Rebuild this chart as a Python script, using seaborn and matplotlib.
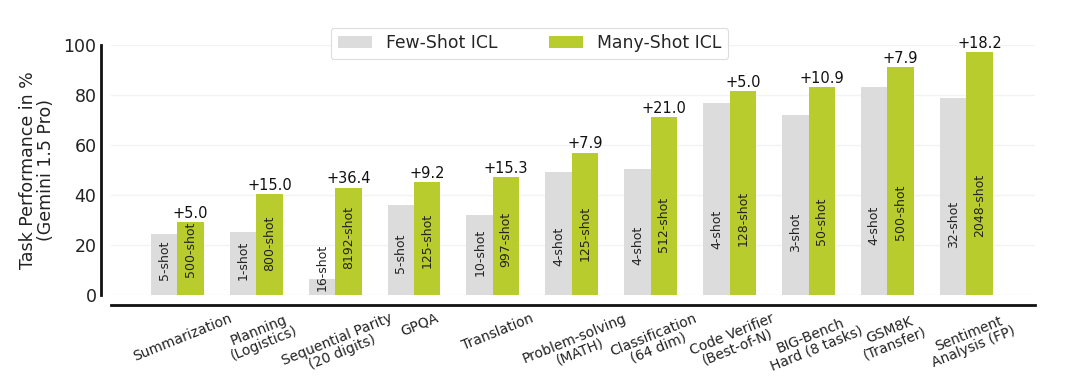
import numpy as np
import pandas as pd
import matplotlib
matplotlib.use("Agg")
import matplotlib.pyplot as plt
import matplotlib.transforms as mtransforms
import seaborn as sns

tasks = ["Summarization", "Planning\n(Logistics)", "Sequential Parity\n(20 digits)", "GPQA",
         "Translation", "Problem-solving\n(MATH)", "Classification\n(64 dim)",
         "Code Verifier\n(Best-of-N)", "BIG-Bench\nHard (8 tasks)", "GSM8K\n(Transfer)",
         "Sentiment\nAnalysis (FP)"]
few_shot = [24.2, 25.2, 6.5, 35.9, 31.9, 49.0, 50.3, 76.7, 72.2, 83.4, 78.9]
many_shot = [29.2, 40.2, 42.9, 45.1, 47.2, 56.9, 71.3, 81.7, 83.1, 91.3, 97.1]
few_labels = ["5-shot", "1-shot", "16-shot", "5-shot", "10-shot", "4-shot", "4-shot",
              "4-shot", "3-shot", "4-shot", "32-shot"]
many_labels = ["500-shot", "800-shot", "8192-shot", "125-shot", "997-shot", "125-shot",
               "512-shot", "128-shot", "50-shot", "500-shot", "2048-shot"]
gains = ["+5.0", "+15.0", "+36.4", "+9.2", "+15.3", "+7.9", "+21.0", "+5.0", "+10.9",
         "+7.9", "+18.2"]
series = ["Few-Shot ICL", "Many-Shot ICL"]

df = pd.DataFrame({
    "Task": tasks * 2,
    "Setting": [series[0]] * len(tasks) + [series[1]] * len(tasks),
    "Score": few_shot + many_shot,
})

sns.set_theme(style="whitegrid")
plt.rcParams["font.family"] = ["DejaVu Sans"]
plt.rcParams["grid.color"] = "#f3f3f3"

fig = plt.figure(figsize=(10.8, 3.84), dpi=100)
ax = fig.add_axes([0.1028, 0.2318, 0.8555, 0.651])

sns.barplot(data=df, x="Task", y="Score", hue="Setting", order=tasks, hue_order=series,
            palette=["#dcdcdc", "#b9cc2e"], width=0.67, gap=0, saturation=1,
            linewidth=0, ax=ax)

ax.set_ylim(0, 100)
ax.set_xlim(-0.84, 10.87)
ax.set_yticks([0, 20, 40, 60, 80, 100])
ax.tick_params(axis="y", labelsize=12.5, length=0, pad=3, colors="#222222")
ax.tick_params(axis="x", length=0, pad=4)
ax.set_xlabel("")
ax.set_ylabel("Task Performance in %\n(Gemini 1.5 Pro)", fontsize=12.5, color="#222222",
              linespacing=1.0, labelpad=6)

# annotations
conts = ax.containers
for cont, labs in zip(conts, [few_labels, many_labels]):
    for bar, lab in zip(cont, labs):
        h = bar.get_height()
        ax.text(bar.get_x() + bar.get_width() / 2, h * 0.24, lab, rotation=90,
                ha="center", va="bottom", fontsize=9, color="#222222")
for bar, g in zip(conts[1], gains):
    ax.text(bar.get_x() + bar.get_width() / 2, bar.get_height() + 0.5, g,
            ha="center", va="bottom", fontsize=10.5, color="#111111")

sns.despine(ax=ax, offset=7.5)
for s in ["left", "bottom"]:
    ax.spines[s].set_color("#111111")
    ax.spines[s].set_linewidth(2)

ax.legend(loc="upper center", bbox_to_anchor=(0.453, 1.07), ncol=2, fontsize=12.4,
          frameon=True, columnspacing=3.0, borderaxespad=0, handlelength=2.0,
          edgecolor="#dddddd", fancybox=True, framealpha=1)
ax.get_legend().get_frame().set_linewidth(0.8)

fig.canvas.draw()
shift = mtransforms.ScaledTranslation(5 / 100, 0, fig.dpi_scale_trans)
for lbl in ax.get_xticklabels():
    lbl.set_rotation(22)
    lbl.set_ha("center")
    lbl.set_va("top")
    lbl.set_fontsize(10)
    lbl.set_linespacing(1.0)
    lbl.set_color("#222222")
    lbl.set_transform(lbl.get_transform() + shift)

fig.savefig("out.png", dpi=100)
